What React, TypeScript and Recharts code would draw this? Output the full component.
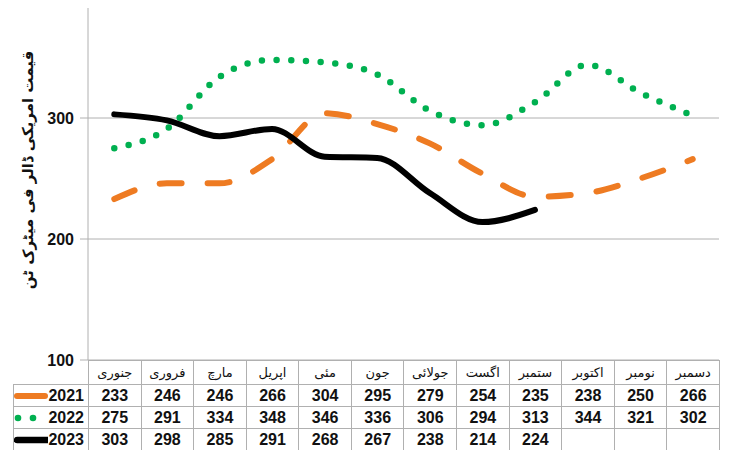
import { CartesianGrid, Line, LineChart, XAxis, YAxis } from "recharts";

const MONTHS = [
  "جنوری",
  "فروری",
  "مارچ",
  "اپریل",
  "مئی",
  "جون",
  "جولائی",
  "اگست",
  "ستمبر",
  "اکتوبر",
  "نومبر",
  "دسمبر",
];

const YEAR_2021 = [233, 246, 246, 266, 304, 295, 279, 254, 235, 238, 250, 266];
const YEAR_2022 = [275, 291, 334, 348, 346, 336, 306, 294, 313, 344, 321, 302];
const YEAR_2023 = [303, 298, 285, 291, 268, 267, 238, 214, 224];

const Y_TICKS = [100, 200, 300, 400];
const Y_TITLE = "قیمت امریکی ڈالر فی میٹرک ٹن";

const SERIES = [
  { key: "y2021", label: "2021", values: YEAR_2021, color: "#EE7B22", kind: "dash" },
  { key: "y2022", label: "2022", values: YEAR_2022, color: "#00B050", kind: "dot" },
  { key: "y2023", label: "2023", values: YEAR_2023, color: "#000000", kind: "solid" },
] as const;

const WIDTH = 733;
const PLOT_LEFT = 88;
const PLOT_RIGHT = 719;
const COL_W = (PLOT_RIGHT - PLOT_LEFT) / MONTHS.length;
const GRID = "#b0b0b0";

const data = MONTHS.map((month, i) => ({
  month,
  y2021: YEAR_2021[i] ?? null,
  y2022: YEAR_2022[i] ?? null,
  y2023: YEAR_2023[i] ?? null,
}));

function dashFor(kind: string) {
  if (kind === "dash") return "22 26";
  if (kind === "dot") return "0 14.7";
  return undefined;
}

function LegendSwatch({ kind, color }: { kind: string; color: string }) {
  return (
    <svg width={36} height={12} style={{ display: "block" }}>
      {kind === "dot" ? (
        <>
          <circle cx={4} cy={6} r={3.3} fill={color} />
          <circle cx={19} cy={6} r={3.3} fill={color} />
        </>
      ) : (
        <line
          x1={3}
          y1={6}
          x2={kind === "solid" ? 36 : 31}
          y2={6}
          stroke={color}
          strokeWidth={kind === "solid" ? 6.5 : 6}
          strokeLinecap="round"
        />
      )}
    </svg>
  );
}

export default function App() {
  const cell: React.CSSProperties = {
    border: `1px solid ${GRID}`,
    padding: 0,
    textAlign: "center",
    fontFamily: "'Liberation Sans', Arial, sans-serif",
    fontWeight: 700,
    fontSize: 16,
    color: "#111",
  };

  return (
    <div
      style={{
        position: "relative",
        width: WIDTH,
        height: 458,
        margin: -8,
        overflow: "hidden",
        background: "#fff",
      }}
    >
      <div style={{ position: "absolute", left: 0, top: -20 }}>
        <LineChart
          width={WIDTH}
          height={400}
          data={data}
          margin={{ top: 17, right: WIDTH - PLOT_RIGHT, bottom: 20, left: 0 }}
        >
          <CartesianGrid vertical={false} stroke={GRID} />
          <XAxis
            dataKey="month"
            hide
            padding={{ left: COL_W / 2, right: COL_W / 2 }}
          />
          <YAxis
            width={PLOT_LEFT}
            domain={[100, 400]}
            ticks={Y_TICKS}
            interval={0}
            tickSize={8}
            tickMargin={6}
            axisLine={{ stroke: GRID }}
            tickLine={{ stroke: GRID }}
            tick={{
              fill: "#111",
              fontSize: 16,
              fontWeight: 700,
              fontFamily: "'Liberation Sans', Arial, sans-serif",
            }}
            label={{
              content: () => (
                <text
                  transform="translate(28,190) rotate(-90)"
                  textAnchor="middle"
                  dominantBaseline="central"
                  fontFamily="'DejaVu Sans', sans-serif"
                  fontWeight={700}
                  fontSize={15}
                  fill="#111"
                >
                  {Y_TITLE}
                </text>
              ),
            }}
          />
          {SERIES.map((s) => (
            <Line
              key={s.key}
              dataKey={s.key}
              type="monotone"
              stroke={s.color}
              strokeWidth={s.kind === "dot" ? 6.5 : 6}
              strokeDasharray={dashFor(s.kind)}
              strokeLinecap="round"
              dot={false}
              activeDot={false}
              isAnimationActive={false}
            />
          ))}
        </LineChart>
      </div>

      <table
        style={{
          position: "absolute",
          left: 13,
          top: 360,
          borderCollapse: "collapse",
          tableLayout: "fixed",
          width: PLOT_RIGHT - 13 + 1,
        }}
      >
        <colgroup>
          <col style={{ width: PLOT_LEFT - 13 }} />
          {MONTHS.map((m) => (
            <col key={m} style={{ width: COL_W }} />
          ))}
        </colgroup>
        <tbody>
          <tr style={{ height: 24 }}>
            <td style={{ padding: 0, border: "none" }} />
            {MONTHS.map((m) => (
              <td
                key={m}
                style={{
                  ...cell,
                  fontFamily: "'DejaVu Sans', sans-serif",
                  fontWeight: 400,
                  fontSize: 13,
                  color: "#111",
                }}
              >
                {m}
              </td>
            ))}
          </tr>
          {SERIES.map((s) => (
            <tr key={s.key} style={{ height: 22 }}>
              <td style={{ ...cell, textAlign: "right", paddingRight: 4 }}>
                <div
                  style={{
                    display: "flex",
                    alignItems: "center",
                    justifyContent: "space-between",
                  }}
                >
                  <LegendSwatch kind={s.kind} color={s.color} />
                  <span>{s.label}</span>
                </div>
              </td>
              {MONTHS.map((m, i) => (
                <td key={m} style={cell}>
                  {s.values[i] ?? ""}
                </td>
              ))}
            </tr>
          ))}
        </tbody>
      </table>
    </div>
  );
}
